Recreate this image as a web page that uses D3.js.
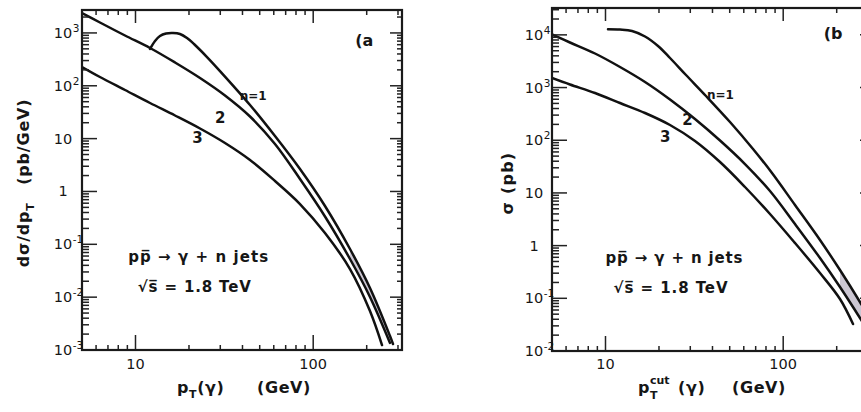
<!DOCTYPE html>
<html><head><meta charset="utf-8">
<script src="https://cdn.jsdelivr.net/npm/d3@7"></script>
<style>
body{margin:0;background:#fff}
svg{display:block}
text{font-family:"DejaVu Sans",sans-serif;fill:#161616}
</style>
</head><body><svg id="c" width="861" height="412"></svg>
<script>
// ---------------- data ----------------
// panel (a): d sigma / d pT  (pb/GeV) vs pT(gamma) (GeV)
const ptA1  = [12.07, 12.88, 13.73, 14.85, 16.26, 17.80, 19.49, 21.62, 25.26, 29.89, 44.10, 60.95, 84.27, 116.5, 161.1, 208.7, 270.5, 281.2];
const valA1 = [497, 704, 875, 976, 997, 955, 802, 591, 350, 190, 43.3, 11.2, 2.66, 0.531, 0.0815, 0.0149, 0.00184, 0.0013];
const ptA2  = [5.00, 6.31, 8.73, 12.07, 16.69, 23.07, 31.89, 44.10, 60.95, 84.27, 116.5, 161.1, 208.7, 270.5];
const valA2 = [2384, 1575, 894, 519, 276, 140.4, 65.5, 26.2, 7.91, 1.72, 0.336, 0.0527, 0.0101, 0.00136];
const ptA3  = [5.00, 6.31, 8.73, 12.07, 16.69, 23.07, 31.89, 44.10, 60.95, 84.27, 116.5, 161.1, 208.7, 243.9];
const valA3 = [226.6, 146.6, 83.2, 47.2, 27.4, 15.54, 8.26, 3.94, 1.578, 0.579, 0.1637, 0.0341, 0.00547, 0.00124];
// panel (b): sigma (pb) vs pT^cut(gamma) (GeV)
const ptB1  = [10.33, 12.07, 14.10, 16.69, 19.75, 23.07, 28.38, 36.78, 50.19, 67.64, 86.49, 116.5, 161.1, 208.7, 270.5, 307.9];
const valB1 = [12760, 12590, 11840, 9313, 6148, 3639, 1731, 691.5, 221.9, 68.2, 23.89, 5.90, 1.278, 0.3445, 0.0851, 0.0405];
const ptB2  = [5.00, 6.31, 8.73, 12.07, 16.69, 23.07, 31.89, 44.10, 60.95, 84.27, 116.5, 161.1, 208.7, 270.5, 307.9];
const valB2 = [10160, 7165, 4430, 2456, 1275, 593, 253, 98.9, 35.4, 10.88, 2.572, 0.582, 0.164, 0.0423, 0.0210];
const ptB3  = [5.00, 6.31, 8.73, 12.07, 16.69, 23.07, 31.89, 44.10, 60.95, 84.27, 116.5, 161.1, 208.7, 247.1];
const valB3 = [1518, 1143, 788, 509, 329, 194.7, 96.8, 38.6, 12.96, 3.98, 1.121, 0.302, 0.097, 0.0325];

// axes
const xDomain = [5, 316];
const xMajorTicks = [10, 100];
const xMinorTicks = [6, 7, 8, 9, 20, 30, 40, 50, 60, 70, 80, 90, 200, 300];
const yDecadesA = [-3, -2, -1, 0, 1, 2, 3];
const yDecadesB = [-2, -1, 0, 1, 2, 3, 4];
const yTopA = Math.pow(10, 3.434);
const yTopB = Math.pow(10, 4.51);

// curve labels [text, x(data), y(data)]
const labelsA = [["n=1", 45.9, 64.7], ["2", 30.0, 24.9], ["3", 22.3, 10.4]];
const labelsB = [["n=1", 44.3, 726], ["2", 28.9, 244], ["3", 21.7, 116]];

// ---------------- drawing ----------------
const svg = d3.select("#c");
svg.append("rect").attr("width", 861).attr("height", 412).attr("fill", "#fff");
const curveType = d3.curveCatmullRom.alpha(0.5);

function panel(cfg) {
  const g = svg.append("g");
  const x = d3.scaleLog().domain(xDomain).range([cfg.x0, cfg.x1]);
  const y = d3.scaleLog().domain(cfg.yDomain).range([cfg.y1, cfg.y0]);
  const clipId = "clip" + cfg.id;
  svg.append("clipPath").attr("id", clipId).append("rect")
    .attr("x", cfg.x0).attr("y", cfg.y0).attr("width", cfg.x1 - cfg.x0).attr("height", cfg.y1 - cfg.y0);

  // grey band between n=1 and n=2 at high pT
  const bandClip = "band" + cfg.id;
  const p1 = cfg.s1.pt.map((v, i) => [v, cfg.s1.val[i]]).filter(d => d[0] >= cfg.bandFrom);
  const p2 = cfg.s2.pt.map((v, i) => [v, cfg.s2.val[i]]).filter(d => d[0] >= cfg.bandFrom * 0.7);
  svg.append("clipPath").attr("id", bandClip).append("path")
    .attr("d", d3.area().x(d => x(d[0])).y0(cfg.y0).y1(d => y(d[1])).curve(curveType)(p2));
  g.append("g").attr("clip-path", `url(#${clipId})`).append("path")
    .attr("clip-path", `url(#${bandClip})`)
    .attr("d", d3.area().x(d => x(d[0])).y0(d => y(d[1])).y1(cfg.y1 + 20).curve(curveType)(p1))
    .attr("fill", "#bbb4c4").attr("opacity", 0.75);

  // curves
  const line = d3.line().x(d => x(d[0])).y(d => y(d[1])).curve(curveType);
  const cg = g.append("g").attr("clip-path", `url(#${clipId})`);
  [cfg.s1, cfg.s2, cfg.s3].forEach(s => {
    cg.append("path").attr("d", line(s.pt.map((v, i) => [v, s.val[i]])))
      .attr("fill", "none").attr("stroke", "#111").attr("stroke-width", 2.5)
      .attr("stroke-linejoin", "round").attr("stroke-linecap", "round");
  });

  // ticks
  const tk = g.append("g").attr("stroke", "#222").attr("stroke-width", 1.5);
  xMajorTicks.forEach(v => {
    tk.append("line").attr("x1", x(v)).attr("x2", x(v)).attr("y1", cfg.y1).attr("y2", cfg.y1 - 15);
    tk.append("line").attr("x1", x(v)).attr("x2", x(v)).attr("y1", cfg.y0).attr("y2", cfg.y0 + 13);
  });
  xMinorTicks.forEach(v => {
    if (x(v) > cfg.x1) return;
    tk.append("line").attr("x1", x(v)).attr("x2", x(v)).attr("y1", cfg.y1).attr("y2", cfg.y1 - 5);
    tk.append("line").attr("x1", x(v)).attr("x2", x(v)).attr("y1", cfg.y0).attr("y2", cfg.y0 + 5);
  });
  cfg.decades.forEach(e => {
    const v = Math.pow(10, e);
    tk.append("line").attr("x1", cfg.x0).attr("x2", cfg.x0 + 15).attr("y1", y(v)).attr("y2", y(v));
    tk.append("line").attr("x1", cfg.x1).attr("x2", cfg.x1 - 12).attr("y1", y(v)).attr("y2", y(v));
    for (let m = 2; m <= 9; m++) {
      const w = m * v;
      if (w > cfg.yDomain[1]) break;
      tk.append("line").attr("x1", cfg.x0).attr("x2", cfg.x0 + 7).attr("y1", y(w)).attr("y2", y(w));
      tk.append("line").attr("x1", cfg.x1).attr("x2", cfg.x1 - 5).attr("y1", y(w)).attr("y2", y(w));
    }
  });

  // frame
  g.append("rect").attr("x", cfg.x0).attr("y", cfg.y0)
    .attr("width", cfg.x1 - cfg.x0).attr("height", cfg.y1 - cfg.y0)
    .attr("fill", "none").attr("stroke", "#1a1a1a").attr("stroke-width", 2.2);

  // y tick labels
  cfg.decades.forEach(e => {
    const yy = y(Math.pow(10, e)) + 5;
    const cx = cfg.labelCx;
    if (e === 0) {
      g.append("text").attr("x", cx).attr("y", yy).attr("text-anchor", "middle").attr("font-size", 14.5).text("1");
    } else {
      g.append("text").attr("x", cx).attr("y", yy).attr("text-anchor", "middle").attr("font-size", 14.5).text("10");
      if (e !== 1) {
        g.append("text").attr("x", cx + 9.8).attr("y", yy - 6).attr("font-size", 10.5)
          .text(e < 0 ? "-" + (-e) : String(e));
      }
    }
  });
  // x tick labels
  xMajorTicks.forEach(v => {
    g.append("text").attr("x", x(v)).attr("y", 369).attr("text-anchor", "middle").attr("font-size", 14.5).text(String(v));
  });

  // curve labels
  cfg.labels.forEach(([t, lx, ly]) => {
    const small = t.length > 1;
    g.append("text").attr("x", x(lx)).attr("y", y(ly) + (small ? 4 : 5.5)).attr("text-anchor", "middle")
      .attr("font-size", small ? 12 : 15).attr("font-weight", "bold").text(t);
  });
  // panel letter
  g.append("text").attr("x", x(cfg.letter[1])).attr("y", y(cfg.letter[2]) + 6).attr("text-anchor", "middle")
    .attr("font-size", 16).attr("font-weight", "bold").text(cfg.letter[0]);

  // process text
  g.append("text").attr("x", x(cfg.proc[0])).attr("y", y(cfg.proc[1]))
    .attr("font-size", 15).attr("font-weight", "bold")
    .attr("textLength", cfg.procLen).attr("lengthAdjust", "spacing")
    .text("pp\u0305 \u2192 \u03B3 + n jets");
  g.append("text").attr("x", x(cfg.rts[0])).attr("y", y(cfg.rts[1]))
    .attr("font-size", 15).attr("font-weight", "bold")
    .attr("textLength", cfg.rtsLen).attr("lengthAdjust", "spacing")
    .text("\u221As\u0305 = 1.8 TeV");
  return { g, x, y };
}

panel({
  id: "a", x0: 82, x1: 402, y0: 10, y1: 350, yDomain: [1e-3, yTopA], decades: yDecadesA, labelCx: 63,
  s1: { pt: ptA1, val: valA1 }, s2: { pt: ptA2, val: valA2 }, s3: { pt: ptA3, val: valA3 },
  bandFrom: 150, labels: labelsA, letter: ["(a", 193.6, 738], proc: [9.1, 0.0457], rts: [10.3, 0.0124],
  procLen: 140, rtsLen: 113
});
panel({
  id: "b", x0: 552, x1: 872, y0: 8, y1: 351, yDomain: [1e-2, yTopB], decades: yDecadesB, labelCx: 534,
  s1: { pt: ptB1, val: valB1 }, s2: { pt: ptB2, val: valB2 }, s3: { pt: ptB3, val: valB3 },
  bandFrom: 200, labels: labelsB, letter: ["(b", 191, 10900], proc: [10.0, 0.472], rts: [11.1, 0.127],
  procLen: 137, rtsLen: 114
});

// axis titles
const tStyle = t => t.attr("font-size", 16).attr("font-weight", "bold").attr("letter-spacing", 0.6);
{
  const t = tStyle(svg.append("text").attr("x", 177).attr("y", 393));
  t.append("tspan").text("p");
  t.append("tspan").attr("dy", 5).attr("font-size", 11).text("T");
  t.append("tspan").attr("dy", -5).text("(\u03B3)");
  tStyle(svg.append("text").attr("x", 257).attr("y", 393)).text("(GeV)");
}
{
  tStyle(svg.append("text").attr("x", 638).attr("y", 393)).text("p");
  svg.append("text").attr("x", 650).attr("y", 399).attr("font-size", 11).attr("font-weight", "bold").text("T");
  svg.append("text").attr("x", 650).attr("y", 384).attr("font-size", 11).attr("font-weight", "bold").text("cut");
  tStyle(svg.append("text").attr("x", 678).attr("y", 393)).text("(\u03B3)");
  tStyle(svg.append("text").attr("x", 732).attr("y", 393)).text("(GeV)");
}

const ya = svg.append("text").attr("transform", "translate(29,183) rotate(-90)")
  .attr("text-anchor", "middle").attr("font-size", 16).attr("font-weight", "bold").attr("letter-spacing", 0.8);
ya.append("tspan").text("d\u03C3/dp");
ya.append("tspan").attr("dy", 5).attr("font-size", 11).text("T");
ya.append("tspan").attr("dy", -5).text("\u2002\u2002(pb/GeV)");

svg.append("text").attr("transform", "translate(513,183) rotate(-90)")
  .attr("text-anchor", "middle").attr("font-size", 16).attr("font-weight", "bold").attr("letter-spacing", 1.2)
  .text("\u03C3 (pb)");
</script>
</body></html>
